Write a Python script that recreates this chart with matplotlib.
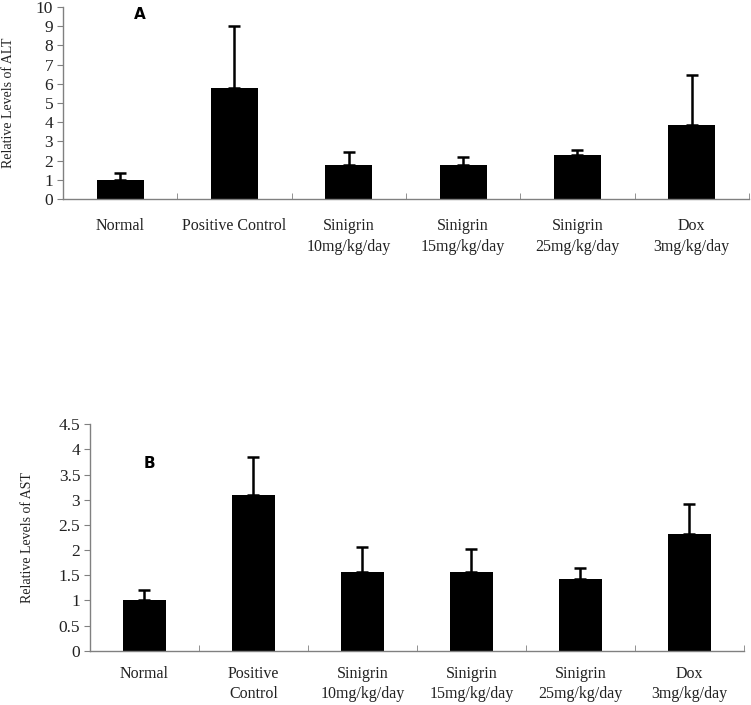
import matplotlib
matplotlib.use('Agg')

import matplotlib.pyplot as plt
import numpy as np

plt.rcParams['font.family'] = ['Liberation Serif', 'DejaVu Serif']

# panel A: ALT
labels_a = ['Normal', 'Positive Control', 'Sinigrin\n10mg/kg/day', 'Sinigrin\n15mg/kg/day',
            'Sinigrin\n25mg/kg/day', 'Dox\n3mg/kg/day']
alt_mean = [1.0, 5.8, 1.75, 1.75, 2.27, 3.87]
alt_err = [0.38, 3.2, 0.7, 0.44, 0.28, 2.6]

# panel B: AST
labels_b = ['Normal', 'Positive\nControl', 'Sinigrin\n10mg/kg/day', 'Sinigrin\n15mg/kg/day',
            'Sinigrin\n25mg/kg/day', 'Dox\n3mg/kg/day']
ast_mean = [1.0, 3.1, 1.56, 1.57, 1.43, 2.33]
ast_err = [0.21, 0.76, 0.5, 0.45, 0.21, 0.59]

fig = plt.figure(figsize=(7.51, 7.05), dpi=100)
gray = '#808080'


def panel(ax, labels, mean, err, yticks, ylabel, letter, letter_pos, width, ypad, xpad):
    x = np.arange(len(mean))
    ax.bar(x, mean, width=width, color='black', zorder=2)
    ax.errorbar(x, mean, yerr=[np.zeros(len(err)), err], fmt='none', ecolor='black',
                elinewidth=1.8, capsize=4.5, capthick=1.8, zorder=3)
    ax.set_xlim(-0.5, len(mean) - 0.5)
    ax.set_ylim(yticks[0], yticks[-1])
    ax.set_yticks(yticks)
    ax.set_yticklabels([('%g' % t) for t in yticks])
    # category boundaries as minor ticks, labels centred
    ax.set_xticks(x)
    ax.set_xticklabels(labels, linespacing=1.35)
    ax.set_xticks(np.arange(0.5, len(mean), 1.0), minor=True)
    ax.tick_params(axis='x', which='major', length=0, pad=xpad, labelsize=11.5, colors='#222222')
    ax.tick_params(axis='x', which='minor', direction='in', length=4, color=gray)
    ax.tick_params(axis='y', direction='out', length=4, color=gray, labelsize=12.5,
                   labelcolor='#222222', pad=3)
    for s in ['top', 'right']:
        ax.spines[s].set_visible(False)
    for s in ['left', 'bottom']:
        ax.spines[s].set_color(gray)
        ax.spines[s].set_linewidth(1.0)
    ax.set_ylabel(ylabel, fontsize=10, color='#222222', labelpad=ypad)
    ax.text(letter_pos[0], letter_pos[1], letter, fontsize=11, fontweight='bold',
            family='DejaVu Sans', ha='center', va='center')


ax1 = fig.add_axes([0.0839, 0.7177, 0.9134, 0.2723])
panel(ax1, labels_a, alt_mean, alt_err, list(range(0, 11)), 'Relative Levels of ALT', 'A',
      (0.17, 9.6), 0.41, 15, 14)

ax2 = fig.add_axes([0.1198, 0.0770, 0.8708, 0.3211])
panel(ax2, labels_b, ast_mean, ast_err, [0, 0.5, 1, 1.5, 2, 2.5, 3, 3.5, 4, 4.5],
      'Relative Levels of AST', 'B', (0.05, 3.73), 0.40, 18, 11)

fig.savefig('out.png', dpi=100)
